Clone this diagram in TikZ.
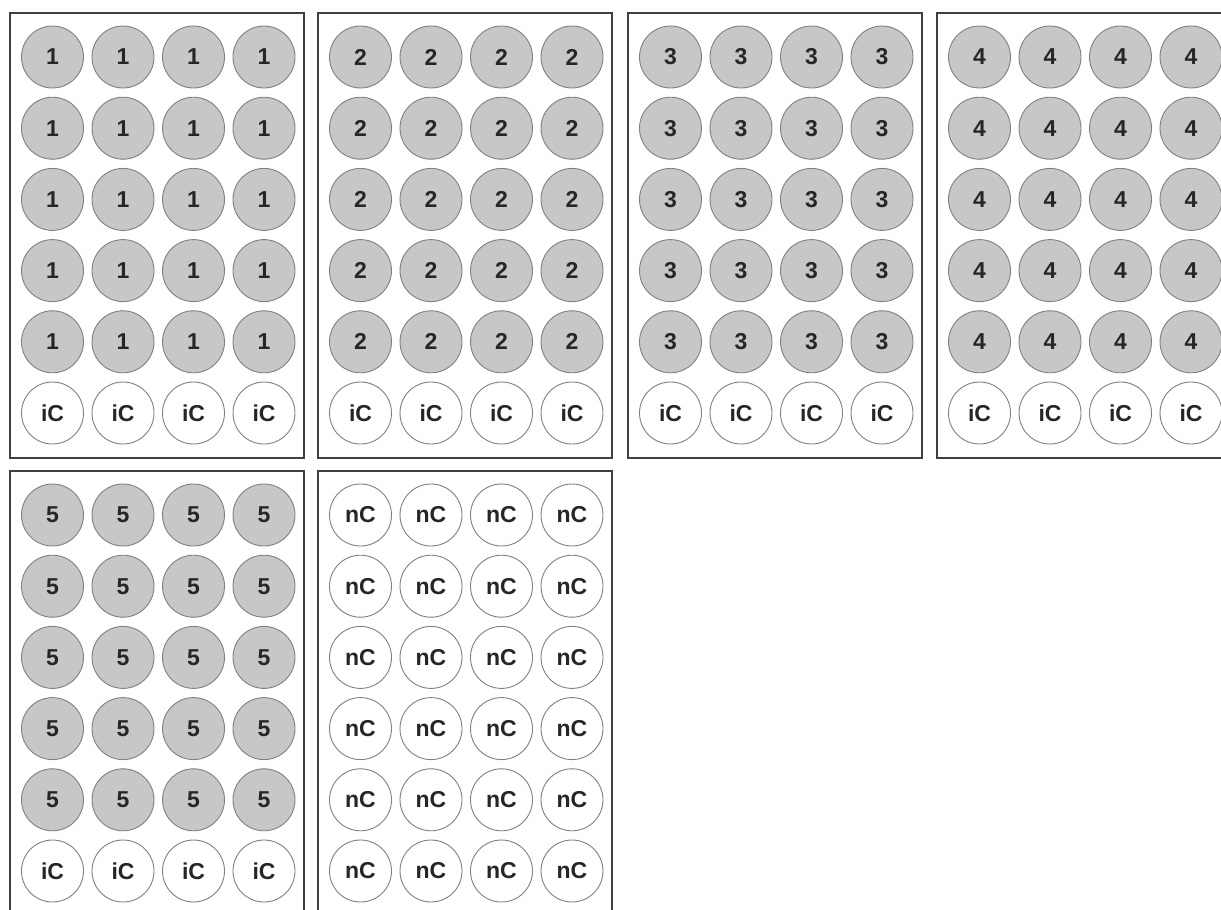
\documentclass[tikz,border=0pt]{standalone}
\usepackage{fontspec}
\setmainfont{Liberation Sans}
\begin{document}
\begin{tikzpicture}[x=1pt,y=-1pt,
  plate/.style={draw=black!75,line width=1.6pt},
  well/.style={circle,draw=black!50,line width=0.9pt,minimum size=62pt,inner sep=0pt,
    font=\fontsize{23}{23}\selectfont\bfseries,text=black!85},
  filled/.style={well,fill=black!22},
  empty/.style={well,fill=white}]
\useasboundingbox (0,0) rectangle (1221,910);
\fill[white] (0,0) rectangle (1221,910);
% plates: name, left, top, label for first five rows, label for last row
\foreach \p/\px/\py/\lab/\last in {1/10/13/1/iC, 2/318/13/2/iC, 3/628/13/3/iC, 4/937/13/4/iC, 5/10/471/5/iC, 6/318/471/nC/nC}{
  \draw[plate] (\px,\py) rectangle ++(294,445);
  \node[coordinate] (plate\p) at (\px,\py) {};
  \foreach \c/\cx in {1/42.5,2/113,3/183.5,4/254}{
    \foreach \r in {1,...,5}{
      \ifnum\p=6
        \node[empty] (w\p-\r-\c) at (\px+\cx,\py+44+71.2*\r-71.2) {\lab};
      \else
        \node[filled] (w\p-\r-\c) at (\px+\cx,\py+44+71.2*\r-71.2) {\lab};
      \fi
    }
    \node[empty] (w\p-6-\c) at (\px+\cx,\py+44+71.2*5) {\last};
  }
}
\end{tikzpicture}
\end{document}
